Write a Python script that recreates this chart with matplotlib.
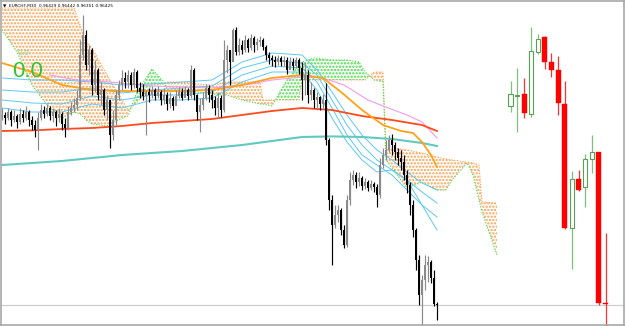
import numpy as np
import matplotlib
matplotlib.use("Agg")
import matplotlib.pyplot as plt
from matplotlib.lines import Line2D

plt.rcParams["hatch.linewidth"] = 1.1

# ---------------- data (EURCHF, M30) ----------------
symbol = "EURCHF,M30"
header_values = ["0.96429", "0.96442", "0.96351", "0.96425"]

open0 = 0.97360
close = [0.97375, 0.97360, 0.97390, 0.97350, 0.97370, 0.97340, 0.97380, 0.97360, 0.97390, 0.97350,
         0.97325, 0.97300, 0.97360, 0.97400, 0.97380, 0.97410, 0.97370, 0.97390, 0.97360, 0.97380,
         0.97330, 0.97310, 0.97390, 0.97410, 0.97425, 0.97460, 0.97675, 0.97775, 0.97625, 0.97700,
         0.97525, 0.97600, 0.97475, 0.97500, 0.97400, 0.97450, 0.97275, 0.97350, 0.97475, 0.97525,
         0.97560, 0.97540, 0.97575, 0.97525, 0.97590, 0.97510, 0.97490, 0.97470, 0.97490, 0.97475,
         0.97500, 0.97470, 0.97490, 0.97450, 0.97475, 0.97430, 0.97460, 0.97420, 0.97470, 0.97490,
         0.97460, 0.97500, 0.97470, 0.97600, 0.97475, 0.97390, 0.97425, 0.97460, 0.97510, 0.97475,
         0.97450, 0.97410, 0.97460, 0.97400, 0.97650, 0.97700, 0.97640, 0.97800, 0.97690, 0.97725,
         0.97700, 0.97750, 0.97710, 0.97760, 0.97725, 0.97740, 0.97750, 0.97715, 0.97675, 0.97660,
         0.97650, 0.97640, 0.97660, 0.97640, 0.97650, 0.97600, 0.97640, 0.97620, 0.97650, 0.97610,
         0.97550, 0.97575, 0.97475, 0.97500, 0.97450, 0.97465, 0.97430, 0.97450, 0.97250, 0.96950,
         0.96825, 0.96875, 0.96900, 0.96800, 0.96725, 0.96950, 0.97050, 0.97075, 0.97040, 0.97060,
         0.97020, 0.97040, 0.97010, 0.97030, 0.97015, 0.96975, 0.97125, 0.97175, 0.97200, 0.97250,
         0.97225, 0.97190, 0.97160, 0.97140, 0.97075, 0.97025, 0.96925, 0.96800, 0.96650, 0.96475,
         0.96550, 0.96625, 0.96640, 0.96560, 0.96429, 0.96425]
high = [0.97410, 0.97390, 0.97410, 0.97400, 0.97400, 0.97380, 0.97410, 0.97400, 0.97420, 0.97400,
        0.97370, 0.97350, 0.97390, 0.97430, 0.97420, 0.97430, 0.97420, 0.97410, 0.97400, 0.97410,
        0.97390, 0.97360, 0.97420, 0.97440, 0.97460, 0.97500, 0.97750, 0.97875, 0.97800, 0.97725,
        0.97710, 0.97650, 0.97610, 0.97540, 0.97510, 0.97475, 0.97450, 0.97400, 0.97500, 0.97550,
        0.97600, 0.97590, 0.97600, 0.97590, 0.97610, 0.97600, 0.97540, 0.97530, 0.97500, 0.97510,
        0.97520, 0.97510, 0.97520, 0.97500, 0.97510, 0.97490, 0.97490, 0.97470, 0.97500, 0.97515,
        0.97510, 0.97520, 0.97510, 0.97625, 0.97610, 0.97480, 0.97460, 0.97490, 0.97530, 0.97525,
        0.97500, 0.97470, 0.97490, 0.97475, 0.97750, 0.97725, 0.97700, 0.97810, 0.97815, 0.97760,
        0.97750, 0.97775, 0.97760, 0.97780, 0.97770, 0.97760, 0.97770, 0.97760, 0.97725, 0.97690,
        0.97675, 0.97670, 0.97675, 0.97670, 0.97670, 0.97665, 0.97665, 0.97660, 0.97665, 0.97660,
        0.97640, 0.97640, 0.97600, 0.97540, 0.97510, 0.97490, 0.97470, 0.97480, 0.97535, 0.97260,
        0.96975, 0.96925, 0.96925, 0.96910, 0.96825, 0.96975, 0.97090, 0.97100, 0.97090, 0.97090,
        0.97070, 0.97060, 0.97050, 0.97050, 0.97040, 0.97030, 0.97160, 0.97210, 0.97250, 0.97275,
        0.97280, 0.97240, 0.97210, 0.97200, 0.97175, 0.97100, 0.97040, 0.96950, 0.96810, 0.96675,
        0.96575, 0.96675, 0.96670, 0.96650, 0.96600, 0.96442]
low = [0.97350, 0.97330, 0.97350, 0.97320, 0.97340, 0.97310, 0.97330, 0.97340, 0.97350, 0.97320,
       0.97300, 0.97265, 0.97200, 0.97350, 0.97360, 0.97370, 0.97350, 0.97340, 0.97320, 0.97340,
       0.97300, 0.97265, 0.97300, 0.97375, 0.97390, 0.97400, 0.97450, 0.97650, 0.97600, 0.97575,
       0.97475, 0.97490, 0.97450, 0.97425, 0.97375, 0.97350, 0.97210, 0.97250, 0.97325, 0.97450,
       0.97500, 0.97510, 0.97510, 0.97500, 0.97510, 0.97490, 0.97460, 0.97450, 0.97275, 0.97440,
       0.97460, 0.97450, 0.97460, 0.97425, 0.97430, 0.97400, 0.97410, 0.97400, 0.97430, 0.97460,
       0.97450, 0.97470, 0.97450, 0.97460, 0.97450, 0.97350, 0.97290, 0.97400, 0.97450, 0.97440,
       0.97410, 0.97375, 0.97365, 0.97365, 0.97390, 0.97585, 0.97525, 0.97650, 0.97675, 0.97675,
       0.97680, 0.97690, 0.97690, 0.97700, 0.97690, 0.97700, 0.97720, 0.97700, 0.97650, 0.97630,
       0.97620, 0.97615, 0.97625, 0.97620, 0.97620, 0.97580, 0.97610, 0.97600, 0.97610, 0.97580,
       0.97450, 0.97475, 0.97435, 0.97450, 0.97410, 0.97400, 0.97400, 0.97410, 0.97225, 0.96900,
       0.96625, 0.96810, 0.96840, 0.96775, 0.96710, 0.96715, 0.96925, 0.97025, 0.97010, 0.97020,
       0.97000, 0.97005, 0.96995, 0.97000, 0.96990, 0.96915, 0.96960, 0.97110, 0.97150, 0.97190,
       0.97175, 0.97150, 0.97125, 0.97100, 0.97050, 0.96985, 0.96875, 0.96765, 0.96600, 0.96425,
       0.96300, 0.96500, 0.96540, 0.96535, 0.96420, 0.96351]

# higher time-frame candles drawn at the right
htf_open = [0.97420, 0.97470, 0.97480, 0.97382, 0.97692, 0.97767, 0.97640, 0.97600, 0.97430, 0.96812,
            0.97054, 0.97017, 0.97155, 0.97189, 0.96434]
htf_high = [0.97545, 0.97612, 0.97560, 0.97814, 0.97780, 0.97770, 0.97684, 0.97672, 0.97547, 0.97094,
            0.97100, 0.97180, 0.97275, 0.97189, 0.96784]
htf_low = [0.97392, 0.97292, 0.97362, 0.97364, 0.97682, 0.97605, 0.97564, 0.97375, 0.96804, 0.96607,
           0.96997, 0.96917, 0.97084, 0.96425, 0.96300]
htf_close = [0.97479, 0.97475, 0.97387, 0.97695, 0.97754, 0.97642, 0.97600, 0.97434, 0.96810, 0.97054,
             0.97000, 0.97157, 0.97189, 0.96434, 0.96429]

# moving averages (bar index, value)
ma_idx = [0, 10, 20, 30, 40, 50, 60, 70, 80, 90, 100, 110, 120, 130, 140, 145]
ma_red = [0.97295, 0.97298, 0.97305, 0.97310, 0.97320, 0.97335, 0.97345, 0.97355, 0.97375, 0.97395,
          0.97410, 0.97400, 0.97370, 0.97350, 0.97325, 0.97295]
ma_teal = [0.97125, 0.97135, 0.97145, 0.97160, 0.97175, 0.97185, 0.97195, 0.97210, 0.97225, 0.97245,
           0.97265, 0.97268, 0.97265, 0.97255, 0.97235, 0.97220]
orange_idx = [0, 10, 20, 30, 40, 50, 60, 70, 80, 90, 100, 107, 113, 120, 127, 133, 137, 140, 143, 145]
ma_orange = [0.97635, 0.97590, 0.97525, 0.97500, 0.97495, 0.97495, 0.97495, 0.97500, 0.97525, 0.97560,
             0.97575, 0.97560, 0.97490, 0.97400, 0.97325, 0.97295, 0.97285, 0.97240, 0.97175, 0.97115]
pink_idx = [16, 25, 36, 50, 70, 83, 90, 100, 107, 114, 122, 127, 135, 140, 145]
ma_pink = [0.97575, 0.97550, 0.97540, 0.97520, 0.97510, 0.97530, 0.97550, 0.97565, 0.97560, 0.97525,
           0.97450, 0.97420, 0.97375, 0.97340, 0.97260]

# envelope lines (light blue)
env_idx = [0, 10, 20, 30, 40, 50, 60, 70, 80, 90, 100, 105, 110, 115, 120, 125, 130, 135, 140, 145]
env_1 = [0.97560, 0.97550, 0.97550, 0.97540, 0.97525, 0.97530, 0.97540, 0.97550, 0.97640, 0.97685,
         0.97675, 0.97600, 0.97490, 0.97375, 0.97275, 0.97200, 0.97150, 0.97090, 0.97035, 0.97000]
env_2 = [0.97500, 0.97490, 0.97490, 0.97510, 0.97485, 0.97500, 0.97510, 0.97520, 0.97610, 0.97650,
         0.97635, 0.97575, 0.97450, 0.97325, 0.97225, 0.97150, 0.97100, 0.97050, 0.96990, 0.96935]
env_3 = [0.97450, 0.97435, 0.97430, 0.97470, 0.97450, 0.97475, 0.97475, 0.97490, 0.97575, 0.97620,
         0.97610, 0.97540, 0.97410, 0.97275, 0.97175, 0.97125, 0.97075, 0.97000, 0.96925, 0.96865]
env_4 = [0.97410, 0.97390, 0.97390, 0.97430, 0.97410, 0.97450, 0.97450, 0.97460, 0.97540, 0.97590,
         0.97590, 0.97500, 0.97360, 0.97240, 0.97150, 0.97090, 0.97100, 0.97050, 0.96925, 0.96800]

# Ichimoku cloud (bar index, span A, span B)
cloud_idx = [0, 5, 10, 15, 20, 24, 26, 28, 30, 35, 40, 42, 45, 50, 54, 55, 60, 65, 70, 75, 80, 86, 87,
             90, 93, 95, 99, 100, 104, 110, 115, 119, 121, 124, 127, 128, 130, 135, 140, 145, 148, 150,
             155, 157, 159, 160, 165]
span_a = [0.97800, 0.97690, 0.97525, 0.97425, 0.97360, 0.97390, 0.97380, 0.97350, 0.97330, 0.97320,
          0.97360, 0.97370, 0.97490, 0.97605, 0.97540, 0.97500, 0.97490, 0.97490, 0.97480, 0.97475,
          0.97450, 0.97430, 0.97430, 0.97420, 0.97500, 0.97550, 0.97625, 0.97640, 0.97660, 0.97650,
          0.97650, 0.97640, 0.97590, 0.97550, 0.97540, 0.97150, 0.97110, 0.97010, 0.97040, 0.97000,
          0.97000, 0.97050, 0.97135, 0.97075, 0.96950, 0.96890, 0.96675]
span_b = [0.97910, 0.97910, 0.97910, 0.97910, 0.97910, 0.97910, 0.97825, 0.97740, 0.97710, 0.97575,
          0.97450, 0.97400, 0.97440, 0.97525, 0.97530, 0.97540, 0.97540, 0.97530, 0.97525, 0.97540,
          0.97540, 0.97540, 0.97450, 0.97450, 0.97450, 0.97450, 0.97450, 0.97550, 0.97550, 0.97550,
          0.97550, 0.97550, 0.97550, 0.97590, 0.97590, 0.97210, 0.97210, 0.97200, 0.97185, 0.97165,
          0.97155, 0.97150, 0.97140, 0.97135, 0.97125, 0.96940, 0.96935]

# ---------------- figure ----------------
fig = plt.figure(figsize=(6.25, 3.26), dpi=100)
ax = fig.add_axes([0, 0, 1, 1])
ax.set_xlim(-2 / 3, 623 / 3)
ax.set_ylim(0.96320, 0.97950)
ax.axis("off")

# cloud
cx = np.array(cloud_idx, float)
sa = np.array(span_a)
sb = np.array(span_b)
orange_c = "#f8a050"
green_c = "#44dd44"
ax.fill_between(cx, sa, sb, where=sb >= sa, interpolate=True, facecolor="none",
                edgecolor=orange_c, hatch=".....", linewidth=0, zorder=1)
ax.fill_between(cx, sa, sb, where=sa > sb, interpolate=True, facecolor="none",
                edgecolor=green_c, hatch=".....", linewidth=0, zorder=1)
ax.plot(cx, sb, color=orange_c, lw=0.8, ls=(0, (1, 1.5)), zorder=1.5)
ax.plot(cx, sa, color=green_c, lw=0.8, ls=(0, (1, 1.5)), zorder=1.5)

# indicator lines
for vals in (env_1, env_2, env_3, env_4):
    ax.plot(env_idx, vals, color="#5cc8f5", lw=0.7, zorder=2)
ax.plot(ma_idx, ma_teal, color="#62c9c1", lw=1.5, zorder=2)
ax.plot(ma_idx, ma_red, color="#ff4a1c", lw=1.3, zorder=2.1)
ax.plot(pink_idx, ma_pink, color="#f09af0", lw=0.8, zorder=2)
ax.plot(orange_idx, ma_orange, color="#ffa21a", lw=1.3, zorder=2.1)

# candles (open = previous close)
c = np.array(close)
h = np.array(high)
l = np.array(low)
o = np.r_[open0, c[:-1]]
xi = np.arange(len(c))
bull = c >= o
cols = np.where(bull, "#8a8a8a", "#000000")
ax.vlines(xi, l, h, colors=cols, lw=0.85, zorder=3)
body = np.maximum(np.abs(c - o), 0.00004)
ax.bar(xi, body, bottom=np.minimum(o, c), width=0.72, color=cols, linewidth=0, zorder=3.1)

# last price line
ax.axhline(c[-1], color="#cfcfcf", lw=0.9, zorder=0.5)

# right-side candles on their own x scale
ax2 = ax.twiny()
ax2.set_xlim(-75.1, 16.84)
ax2.set_ylim(ax.get_ylim())
ax2.axis("off")
ho = np.array(htf_open)
hc = np.array(htf_close)
hh = np.array(htf_high)
hl = np.array(htf_low)
kx = np.arange(len(ho))
up = hc >= ho
wick_cols = np.where(up, "#7fbf7f", "#ff3030")
ax2.vlines(kx, hl, hh, colors=wick_cols, lw=0.9, zorder=3)
hb = np.maximum(np.abs(hc - ho), 0.00004)
ax2.bar(kx[up], hb[up], bottom=np.minimum(ho, hc)[up], width=0.62, facecolor="white",
        edgecolor="#52a452", linewidth=0.8, zorder=3.2)
ax2.bar(kx[~up], hb[~up], bottom=np.minimum(ho, hc)[~up], width=0.72, facecolor="#ff0000",
        edgecolor="#ff0000", linewidth=0.3, zorder=3.2)

# texts
fig.text(2.5 / 625, 1 - 6.5 / 326, "\u25BC", fontsize=3.2, color="black", va="center", ha="left")
fig.text(9 / 625, 1 - 6 / 326, symbol + "  " + " ".join(header_values), fontsize=3.05,
         color="black", va="center", ha="left", family="DejaVu Sans")
fig.text(18 / 625, 1 - 55 / 326, "0.0", fontsize=6, color="#8fdc8f", va="baseline",
         ha="left", family="Liberation Sans")
fig.text(12 / 625, 1 - 77 / 326, "0.0", fontsize=16, color="#33c433", va="baseline",
         ha="left", family="Liberation Sans")

# frame
fr = "#a8a8a8"
for xs, ys in (([1.5 / 625, 1.5 / 625], [0, 1]), ([623.5 / 625, 623.5 / 625], [0, 1]),
               ([0, 1], [1.5 / 326, 1.5 / 326]), ([0, 1], [1 - 0.5 / 326, 1 - 0.5 / 326])):
    fig.add_artist(Line2D(xs, ys, color=fr, lw=1.2, transform=fig.transFigure))

fig.savefig("out.png", dpi=100)
